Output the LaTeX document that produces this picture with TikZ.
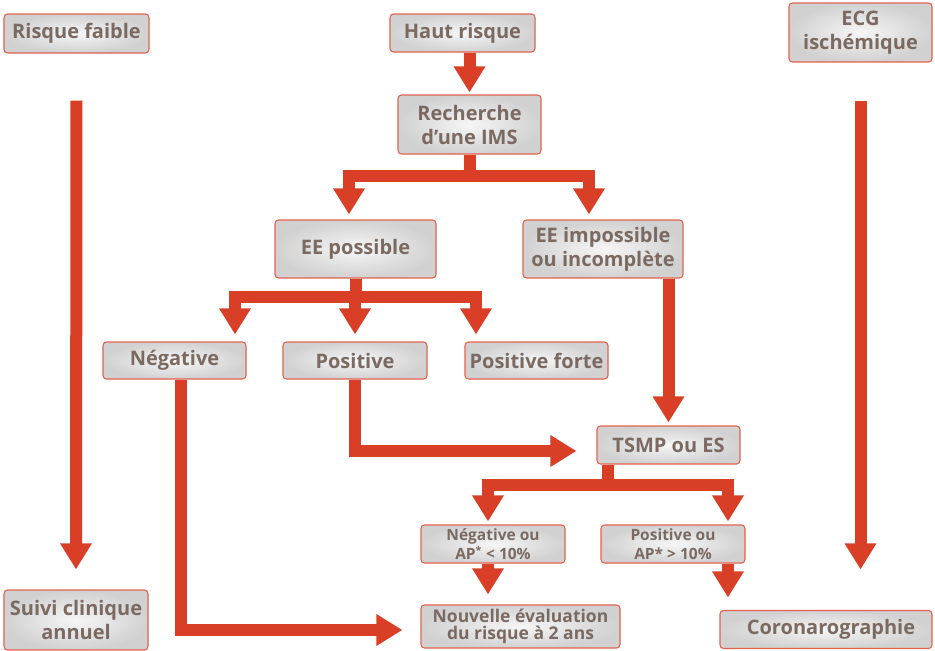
\documentclass[tikz,border=0pt]{standalone}
\usepackage{fontspec}
\setmainfont{Open Sans}
\usetikzlibrary{arrows.meta}
\definecolor{arrred}{HTML}{D93F26}
\definecolor{boxborder}{HTML}{E2624D}
\definecolor{txtcol}{HTML}{7A6A62}
\tikzset{
  box/.style={draw=boxborder, line width=1.1pt, rounded corners=3.5pt,
    inner color=gray!7, outer color=gray!36, align=center, inner sep=0pt,
    text=txtcol, font=\fontsize{20}{24}\selectfont\bfseries},
  smallbox/.style={box, font=\fontsize{15.5}{19}\selectfont\bfseries},
  arr/.style={draw=arrred, line width=12pt, line join=miter,
    -{Triangle[width=30pt,length=26pt]}},
}
\begin{document}
\begin{tikzpicture}[x=1pt,y=-1pt]
\useasboundingbox (0,0) rectangle (935,651);
% nodes
\node[box, minimum width=145pt, minimum height=39pt] (rf) at (76.5,33.5) {Risque faible};
\node[box, minimum width=145pt, minimum height=38pt] (hr) at (462.5,33) {Haut risque};
\node[box, minimum width=143pt, minimum height=59pt] (ecg) at (860.5,32.5) {ECG\\ischémique};
\node[box, minimum width=143pt, minimum height=59pt] (ims) at (469.5,124.5) {Recherche\\d’une IMS};
\node[box, minimum width=161pt, minimum height=58pt] (eep) at (355.5,249) {EE possible};
\node[box, minimum width=160pt, minimum height=58pt] (eei) at (603,249) {EE impossible\\ou incomplète};
\node[box, minimum width=143pt, minimum height=37pt] (neg) at (174.5,360.5) {Négative};
\node[box, minimum width=144pt, minimum height=37pt] (pos) at (355,360.5) {Positive};
\node[box, minimum width=143pt, minimum height=37pt] (posf) at (536.5,360.5) {Positive forte};
\node[box, minimum width=143pt, minimum height=38pt] (tsmp) at (668.5,445) {TSMP ou ES};
\node[smallbox, minimum width=144pt, minimum height=38pt] (negap) at (493,544) {Négative ou\\AP\textsuperscript{*} < 10\%};
\node[smallbox, minimum width=144pt, minimum height=38pt] (posap) at (673,544) {Positive ou\\AP* > 10\%};
\node[box, minimum width=144pt, minimum height=60pt] (suivi) at (76,620) {Suivi clinique\\annuel};
\node[box, minimum width=199pt, minimum height=43pt, font=\fontsize{17.5}{17}\selectfont\bfseries] (nouv) at (520.5,626.5) {Nouvelle évaluation\\du risque à 2 ans};
\node[box, minimum width=212pt, minimum height=38pt] (coro) at (826,629.5) {\hspace*{10pt}Coronarographie};
% connectors
\coordinate (rfstart) at ([yshift=-47pt]rf.south);
\coordinate (ecgstart) at ([yshift=-38pt]ecg.south);
\coordinate (rftip) at ([yshift=20pt]suivi.north);
\coordinate (ecgtip) at (ecgstart |- rftip);
\draw[arr] (rfstart) -- (rftip);
\draw[arr] (ecgstart) -- (ecgtip);
\draw[arr] (ims.north |- hr.south) -- ([yshift=2pt]ims.north);
\draw[arr] (ims.south) -- (ims.south |- 0,176) -| ([xshift=-6.5pt,yshift=5pt]eep.north);
\draw[arr] (ims.south) -- (ims.south |- 0,176) -| ([xshift=-14pt,yshift=5pt]eei.north);
\coordinate (negtip) at ([xshift=60.5pt,yshift=7pt]neg.north);
\coordinate (posftip) at ([xshift=-60.5pt,yshift=7pt]posf.north);
\draw[arr] (eep.south) -- (eep.south |- 0,297) -| (negtip);
\draw[arr] (eep.south) -- (eep.south |- 0,297) -| ([yshift=7pt]pos.north);
\draw[arr] (eep.south) -- (eep.south |- 0,297) -| (posftip);
\draw[arr] (tsmp.north |- eei.south) -- ([yshift=3pt]tsmp.north);
\draw[arr] (pos.south) |- ([xshift=-20pt,yshift=-6pt]tsmp.west);
\coordinate (tstem) at ([xshift=-60.5pt]tsmp.south);
\draw[arr] (tstem) -- (tstem |- 0,485) -| ([xshift=-5pt,yshift=3pt]negap.north);
\draw[arr] (tstem) -- (tstem |- 0,485) -| ([xshift=55pt,yshift=3pt]posap.north);
\draw[arr] ([xshift=-5pt]negap.south) -- ([xshift=-32.5pt,yshift=10pt]nouv.north);
\coordinate (corotip) at ([xshift=-98pt,yshift=12.5pt]coro.north);
\draw[arr] ([xshift=55pt]posap.south) -- (corotip);
\draw[arr] ([xshift=6.5pt]neg.south) |- ([xshift=-18pt,yshift=-3.5pt]nouv.west);
\end{tikzpicture}
\end{document}
